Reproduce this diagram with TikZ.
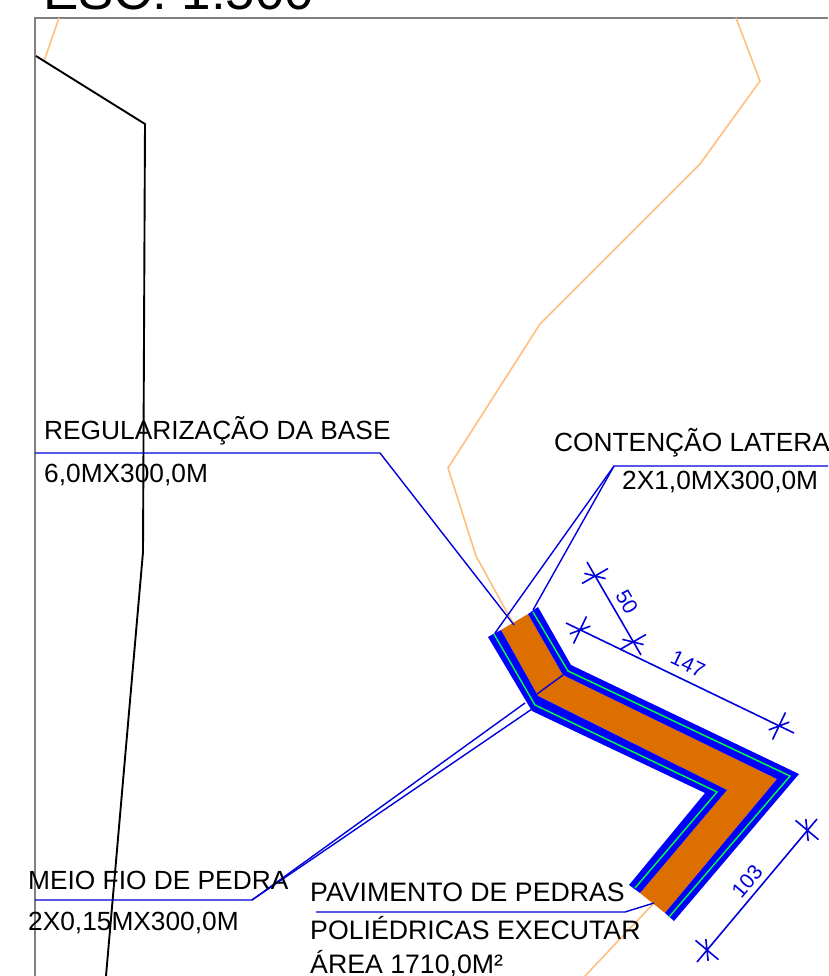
\documentclass[tikz,border=0pt]{standalone}
\usepackage{fontspec}
\setmainfont{Liberation Sans}
\definecolor{cadblue}{RGB}{0,0,220}
\definecolor{cadpure}{RGB}{0,0,255}
\definecolor{cadgreen}{RGB}{0,255,64}
\definecolor{cadorange}{RGB}{221,111,0}
\definecolor{cadsand}{RGB}{255,191,127}
\tikzstyle{lbl} = [inner sep=0pt, anchor=base west, font=\fontsize{26.3}{28}\selectfont, text=black]
\tikzstyle{lblpav} = [lbl, font=\fontsize{26.7}{28}\selectfont]
\tikzstyle{dimlbl} = [inner sep=0pt, text=cadblue, font=\fontsize{21}{24}\selectfont]
\tikzstyle{leader} = [cadblue, line width=1.4pt]
\tikzstyle{dimline} = [cadblue, line width=1.6pt]
\tikzstyle{sandline} = [cadsand, line width=1.6pt]
\tikzstyle{axisline} = [black, line width=1.9pt]
\tikzstyle{frameline} = [black!50, line width=1.4pt]
\tikzstyle{strip} = [cadpure, line width=0pt, fill=cadpure]
\tikzstyle{core} = [cadgreen, line width=1.4pt]
% one dimension tick: a stroke across the line and a slanted one
\newcommand{\dimtick}[2]{\draw [dimline, shift={(#1)}, rotate=#2] (0,-15) -- (0,15) (-7.6,7.9) -- (7.6,-7.9);}
\begin{document}
\begin{tikzpicture}[x=1pt, y=-1pt]
\useasboundingbox (0,0) rectangle (828,976);
\clip (0,0) rectangle (828,976);

%% Title and frame
\node (title) [lbl, font=\fontsize{53}{56}\selectfont] at (43,10) {ESC: 1:500};
\coordinate (fr_a) at (35,976);
\coordinate (fr_b) at (35,18);
\coordinate (fr_c) at (828,18);
\draw [frameline] (fr_a) -- (fr_b) -- (fr_c);

%% Terrain lines
\draw [sandline] (59,18) -- (44,61);
\draw [sandline] (736,18) -- (760,81) -- (700,164) -- (540,324) -- (448,468) -- (476,556) -- (514,625);
\draw [sandline] (653,904) -- (585,976);
\draw [axisline] (36,56) -- (145,124) -- (143,552) -- (106,976);

%% Road surface
\fill [cadorange] (501,630) -- (528,614) -- (563,675) -- (777,779) -- (665,913) -- (640,893) -- (727,790) -- (538,696) -- cycle;
\fill [strip] (488,637) -- (495,633) -- (501,630) -- (538,696) -- (727,790) -- (640,893) -- (629,885) -- (705,793) -- (532,711) -- cycle;
\fill [strip] (528,614) -- (538,607) -- (571,665) -- (799,774) -- (674,921) -- (665,913) -- (777,779) -- (563,675) -- cycle;
\draw [core] (494,634) -- (535,705) -- (717,792) -- (635,888);
\draw [core] (533,612) -- (568,671) -- (790,776) -- (669,917);

%% Leaders
\coordinate (lea_reg) at (35,453);
\coordinate (lea_con) at (828,466);
\coordinate (lea_mei) at (35,900);
\coordinate (lea_pav) at (316,912);
\draw [leader] (lea_reg) -- (380,453) -- (514,625);
\draw [leader] (lea_con) -- (614,466) -- (495,633);
\draw [leader] (614,466) -- (533,610);
\draw [leader] (lea_mei) -- (252,900) -- (525,703);
\draw [leader] (252,900) -- (532,709);
\draw [leader] (lea_pav) -- (625,912) -- (654,903);
\draw [leader] (537,694) -- (563,675);

%% Labels
\node (reg_a) [lbl] at (44,439) {REGULARIZAÇÃO DA BASE};
\node (reg_b) [lbl] at (44,482) {6,0MX300,0M};
\node (con_a) [lbl] at (554,451) {CONTENÇÃO LATERAL};
\node (con_b) [lbl] at (622,489) {2X1,0MX300,0M};
\node (mei_a) [lbl] at (28,889) {MEIO FIO DE PEDRA};
\node (mei_b) [lbl] at (28,930) {2X0,15MX300,0M};
\node (pav_a) [lblpav] at (310,901) {PAVIMENTO DE PEDRAS};
\node (pav_b) [lblpav] at (310,939) {POLIÉDRICAS EXECUTAR};
\node (pav_c) [lblpav] at (310,973) {ÁREA 1710,0M²};

%% Dimensions
\draw [dimline] (587,562) -- (641,655);
\dimtick{595,576}{-60}
\dimtick{633,642}{-60}
\node (dim_50) [dimlbl, rotate=-60] at (627,602) {50};
\draw [dimline] (566,623) -- (794,733);
\dimtick{580,630}{-25.5}
\dimtick{779,726}{-25.5}
\node (dim_147) [dimlbl, rotate=-25.5] at (688,664) {147};
\draw [dimline] (817,819) -- (697,962);
\dimtick{807,830}{-130}
\dimtick{707,950}{-130}
\node (dim_103) [dimlbl, rotate=50] at (747,881) {103};
\end{tikzpicture}
\end{document}
